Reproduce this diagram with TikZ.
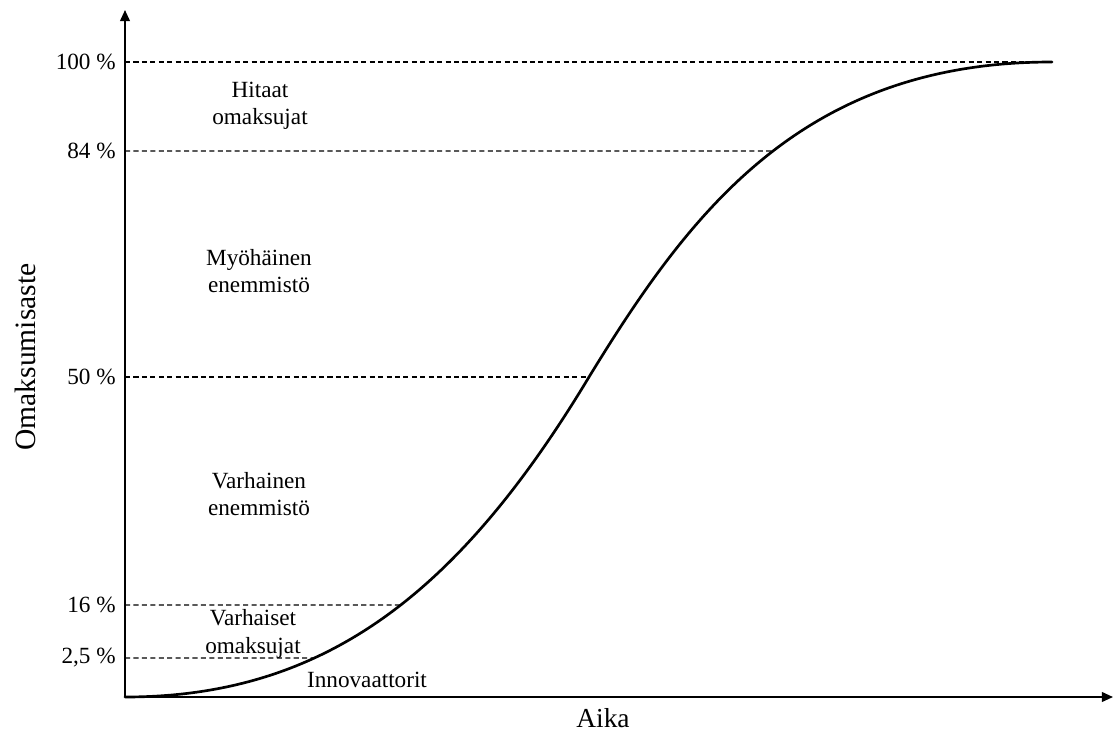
\documentclass[tikz,border=0pt]{standalone}
\usepackage{fontspec}
\setmainfont{Liberation Serif}
\usetikzlibrary{arrows.meta,intersections}

\tikzstyle{axis} = [line width=1.3pt, -{Triangle[length=8pt,width=7pt]}]
\tikzstyle{level} = [line width=1pt, dash pattern=on 3.6pt off 2.4pt]
\tikzstyle{curve} = [line width=1.9pt, line cap=round]
\tikzstyle{tick} = [anchor=east, inner sep=0pt, font=\fontsize{16.5}{19}\selectfont]
\tikzstyle{group} = [align=center, inner sep=0pt, font=\fontsize{16.5}{19.5}\selectfont]

\begin{document}
\begin{tikzpicture}[x=0.025cm, y=-0.025cm]
\useasboundingbox (0,0) rectangle (1113,736);
%axes
\coordinate (origo) at (125,697);
\coordinate (ytop) at (125,10);
\coordinate (xend) at (1113,697);
\draw[axis] (origo) -- (ytop);
\draw[axis] (origo) -- (xend);
\node[font=\fontsize{19.5}{22}\selectfont] (aika) at (603,718) {Aika};
\node[rotate=90, font=\fontsize{21}{24}\selectfont] (aste) at (25,357) {Omaksumisaste};
%begin curve
\coordinate (c50) at (589,377);
\coordinate (c100) at (1052,62);
\draw[curve, name path=scurve] (origo)
    .. controls (325,697) and (459,593) .. (c50)
    .. controls (690,212) and (802,62) .. (c100);
%end curve
%begin levels
\coordinate (y100) at (125,62);
\coordinate (y84) at (125,151);
\coordinate (y50) at (125,377);
\coordinate (y16) at (125,605);
\coordinate (y25) at (125,658);
\path[name path=h84] (y84) -- ++(1000,0);
\path[name path=h16] (y16) -- ++(1000,0);
\path[name path=h25] (y25) -- ++(1000,0);
\path[name intersections={of=scurve and h84, by=c84}];
\path[name intersections={of=scurve and h16, by=c16}];
\path[name intersections={of=scurve and h25, by=c25}];
\draw[level] (y100) -- (c100);
\draw[level] (y84) -- (c84);
\draw[level] (y50) -- (c50);
\draw[level] (y16) -- (c16);
\draw[level] (y25) -- (c25);
\node[tick] (t100) at (116,62) {100 \%};
\node[tick] (t84) at (116,151) {84 \%};
\node[tick] (t50) at (116,377) {50 \%};
\node[tick] (t16) at (116,605) {16 \%};
\node[tick] (t25) at (116,658) {2,5 \%};
%end levels
%begin groups
\node[group] (hitaat) at (260,106) {Hitaat\\omaksujat};
\node[group] (myoh) at (259,271) {Myöhäinen\\enemmistö};
\node[group] (varhen) at (259,494) {Varhainen\\enemmistö};
\node[group] (varhom) at (253,634) {Varhaiset\\omaksujat};
\node[group] (innov) at (367,680) {Innovaattorit};
%end groups
\end{tikzpicture}
\end{document}
